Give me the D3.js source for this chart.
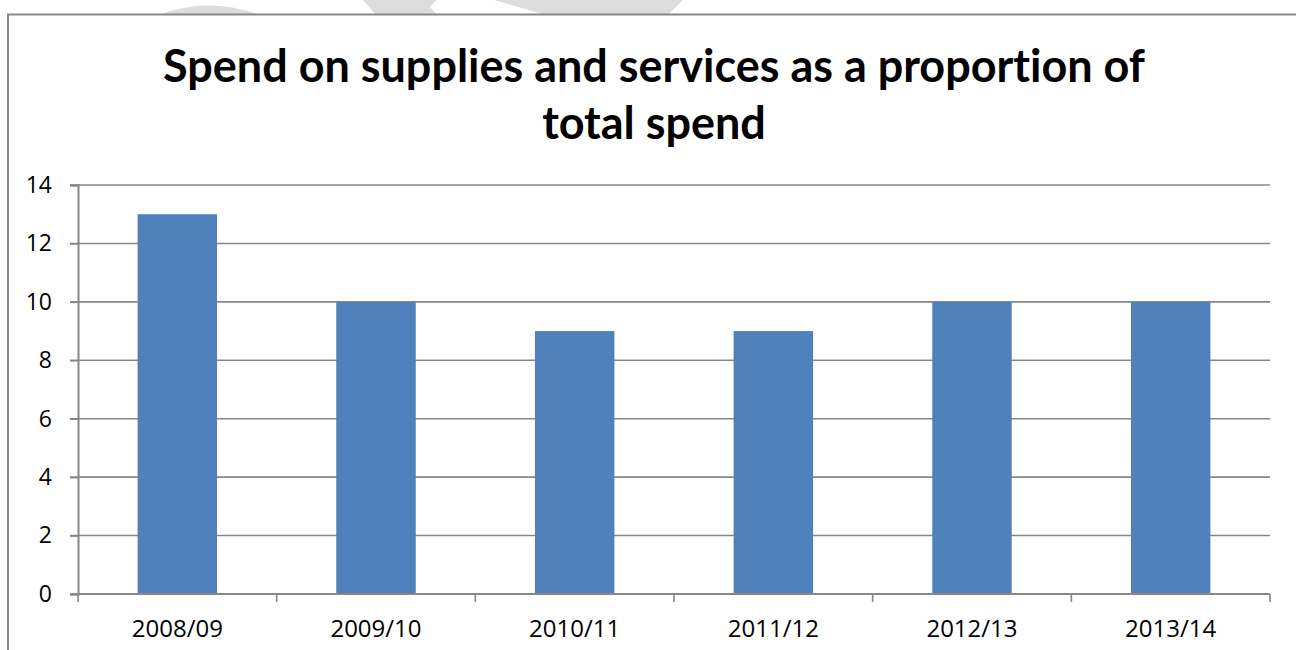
<!DOCTYPE html>
<html>
<head>
<meta charset="utf-8">
<script src="https://cdn.jsdelivr.net/npm/d3@7"></script>
<style>
  html, body { margin: 0; padding: 0; background: #fff; }
  svg { display: block; }
  text { font-variant-ligatures: none; font-feature-settings: "liga" 0, "clig" 0; }
</style>
</head>
<body>
<svg id="chart" width="1296" height="650"></svg>
<script>
const titleLines = ["Spend on supplies and services as a proportion of", "total spend"];
const categories = ["2008/09", "2009/10", "2010/11", "2011/12", "2012/13", "2013/14"];
const values = [13, 10, 9, 9, 10, 10];
const yTicks = [0, 2, 4, 6, 8, 10, 12, 14];

const svg = d3.select("#chart");
const W = 1296, H = 650;
const margin = { left: 78, right: 26, top: 185, bottom: 56 };
const gray = "#878787";

// faint watermark shapes at the very top
const wm = svg.append("g").attr("fill", "#dddddd");
wm.append("path").attr("d", "M158,15 Q209,-4 260,15 Z");
wm.append("path").attr("d", "M363,0 L436,0 L430,7 L437,15 L376,15 Z");
wm.append("path").attr("d", "M494,0 L683,0 L668,15 L546,15 Z");

// chart frame
svg.append("rect")
  .attr("x", 8).attr("y", 14.5)
  .attr("width", 1400).attr("height", 700)
  .attr("fill", "#fff").attr("stroke", gray).attr("stroke-width", 2);

// title
const title = svg.append("text")
  .attr("text-anchor", "middle")
  .attr("font-family", "Lato, 'Open Sans', sans-serif")
  .attr("font-weight", "bold")
  .attr("fill", "#000");
title.selectAll("tspan").data(titleLines).join("tspan")
  .attr("x", 654)
  .attr("y", (d, i) => 82 + i * 57)
  .text(d => d);
// fit title width to reference
title.attr("font-size", 100);
const w100 = title.select("tspan").node().getComputedTextLength();
title.attr("font-size", 100 * 982 / w100);

const x = d3.scaleBand()
  .domain(categories)
  .range([margin.left, W - margin.right])
  .paddingInner(0.6)
  .paddingOuter(0.3);

const y = d3.scaleLinear()
  .domain([0, 14])
  .range([H - margin.bottom, margin.top]);

// gridlines
svg.append("g")
  .selectAll("line")
  .data(yTicks)
  .join("line")
  .attr("x1", margin.left - 8)
  .attr("x2", W - margin.right)
  .attr("y1", d => y(d))
  .attr("y2", d => y(d))
  .attr("stroke", gray)
  .attr("stroke-width", 1.6);

// y axis
const yAxis = svg.append("g")
  .attr("transform", `translate(${margin.left},0)`)
  .call(d3.axisLeft(y).tickValues(yTicks).tickSize(8).tickPadding(18).tickFormat(d3.format("d")));
yAxis.select(".domain").attr("stroke", gray).attr("stroke-width", 2);
yAxis.selectAll(".tick line").attr("stroke", gray).attr("stroke-width", 1.6);
yAxis.selectAll("text")
  .attr("font-family", "'Open Sans', sans-serif")
  .attr("font-size", 23)
  .attr("fill", "#000");

// bars
svg.append("g")
  .selectAll("rect")
  .data(values)
  .join("rect")
  .attr("x", (d, i) => x(categories[i]))
  .attr("width", x.bandwidth())
  .attr("y", d => y(d))
  .attr("height", d => y(0) - y(d))
  .attr("fill", "#4F81BD");

// x axis with ticks at category boundaries
const xBase = y(0);
const bounds = d3.range(categories.length + 1).map(i => margin.left + i * (W - margin.right - margin.left) / categories.length);
const xg = svg.append("g");
xg.append("line")
  .attr("x1", margin.left).attr("x2", W - margin.right)
  .attr("y1", xBase).attr("y2", xBase)
  .attr("stroke", gray).attr("stroke-width", 2);
xg.selectAll("line.tk")
  .data(bounds)
  .join("line")
  .attr("class", "tk")
  .attr("x1", d => d).attr("x2", d => d)
  .attr("y1", xBase).attr("y2", xBase + 8)
  .attr("stroke", gray).attr("stroke-width", 1.6);
xg.selectAll("text")
  .data(categories)
  .join("text")
  .attr("x", d => x(d) + x.bandwidth() / 2)
  .attr("y", xBase + 43)
  .attr("text-anchor", "middle")
  .attr("font-family", "'Open Sans', sans-serif")
  .attr("font-size", 24)
  .attr("fill", "#000")
  .text(d => d);
</script>
</body>
</html>
